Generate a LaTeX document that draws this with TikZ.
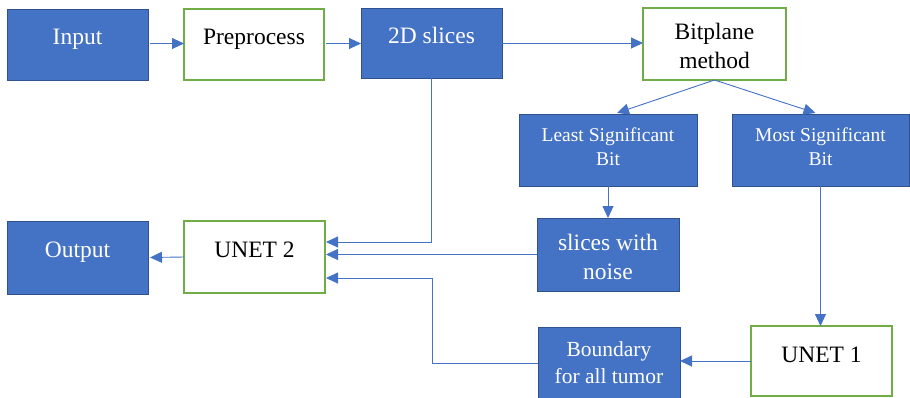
\documentclass[tikz,border=0pt]{standalone}
\usepackage{fontspec}
\setmainfont{Liberation Serif}
\usetikzlibrary{arrows.meta}
\definecolor{boxblue}{HTML}{4472C4}
\definecolor{edgeblue}{HTML}{2F528F}
\definecolor{boxgreen}{HTML}{70AD47}
\definecolor{lineblue}{HTML}{4472C4}
\begin{document}
\begin{tikzpicture}[x=1pt,y=-1pt,
  bluebox/.style={rectangle,fill=boxblue,draw=edgeblue,line width=1pt,inner sep=0pt,outer sep=0pt},
  greenbox/.style={rectangle,fill=white,draw=boxgreen,line width=2pt,inner sep=0pt,outer sep=0pt},
  wtext/.style={text=white,anchor=base,inner sep=0pt,align=center,font=\fontsize{23.5}{29}\selectfont},
  btext/.style={text=black,anchor=base,inner sep=0pt,align=center,font=\fontsize{23.5}{29}\selectfont},
  arr/.style={draw=lineblue,line width=0.9pt,-{Triangle[length=12pt,width=11pt]}}
]
\useasboundingbox (0,0) rectangle (910,397);
\begin{scope}
\clip (0,0) rectangle (910,397);
% boxes
\node[bluebox,minimum width=141pt,minimum height=71pt] (input) at (77.5,44.5) {};
\node[greenbox,minimum width=140pt,minimum height=71pt] (prep) at (254,44.5) {};
\node[bluebox,minimum width=141pt,minimum height=70pt] (slices) at (431.5,43) {};
\node[greenbox,minimum width=143pt,minimum height=72pt] (bitplane) at (714.5,44) {};
\node[bluebox,minimum width=178pt,minimum height=72pt] (lsb) at (608,150) {};
\node[bluebox,minimum width=177pt,minimum height=72pt] (msb) at (820.5,150) {};
\node[bluebox,minimum width=141pt,minimum height=73pt] (output) at (77.5,257.5) {};
\node[greenbox,minimum width=141pt,minimum height=72pt] (unet2) at (254.5,257) {};
\node[bluebox,minimum width=142pt,minimum height=73pt] (noise) at (608,254.5) {};
\node[bluebox,minimum width=142pt,minimum height=73pt] (boundary) at (609,363.5) {};
\node[greenbox,minimum width=141pt,minimum height=70pt] (unet1) at (821.5,361) {};
% labels (two-line labels are placed by the baseline of their last line)
\node[wtext] at (77.5,44) {Input};
\node[btext] at (254,44) {Preprocess};
\node[wtext] at (431.5,43) {2D slices};
\node[btext] at (714.5,68) {Bitplane\\method};
\node[wtext,font=\fontsize{19.5}{24}\selectfont] at (608,165) {Least Significant\\Bit};
\node[wtext,font=\fontsize{19.5}{24}\selectfont] at (820.5,165) {Most Significant\\Bit};
\node[wtext] at (77.5,257) {Output};
\node[btext] at (254.5,257) {UNET 2};
\node[wtext] at (608,279) {slices with\\noise};
\node[wtext,font=\fontsize{21.5}{27}\selectfont] at (609,383) {Boundary\\for all tumor};
\node[btext] at (821.5,362) {UNET 1};
% connectors
\draw[arr,shorten <=2pt] ([yshift=1pt]input.east) -- ([yshift=1pt]prep.west);
\draw[arr,shorten <=2pt] ([yshift=1pt]prep.east) -- ([yshift=1pt]prep.east -| slices.west);
\draw[arr] (slices.east) -- (slices.east -| bitplane.west);
\draw[arr] (bitplane.south) -- ([xshift=9pt,yshift=1pt]lsb.north);
\draw[arr] (bitplane.south) -- ([xshift=-5pt,yshift=1pt]msb.north);
\draw[arr,shorten >=1pt] (slices.south) |- ([yshift=15pt]unet2.east);
\draw[arr] (lsb.south) -- (noise.north);
\draw[arr,shorten >=1pt] (noise.west) -- (noise.west -| unet2.east);
\draw[arr] (msb.south) -- (msb.south |- unet1.north);
\draw[arr] (unet1.west) -- (unet1.west -| boundary.east);
\coordinate (bend) at (432,278);
\draw[arr,shorten >=1pt] (boundary.west) -| (bend) -- (bend -| unet2.east);
\draw[arr,shorten >=2pt] (unet2.west) -- (output.east);
\end{scope}
\end{tikzpicture}
\end{document}
